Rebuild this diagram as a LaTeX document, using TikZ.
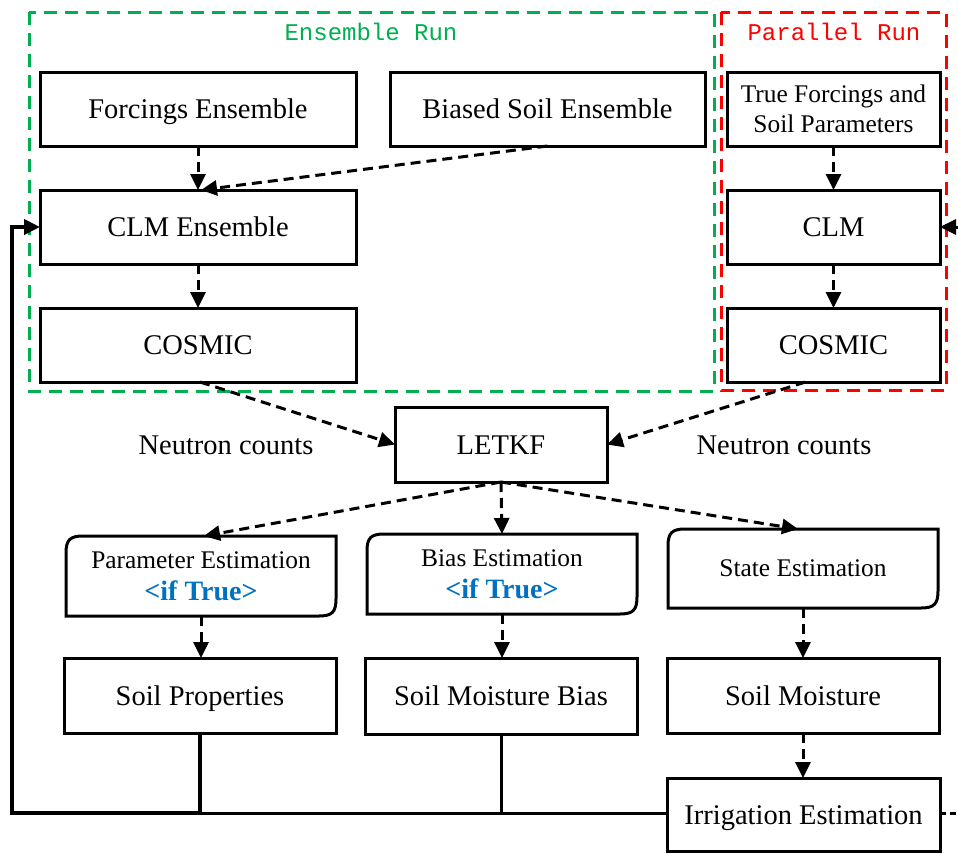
\documentclass[tikz,border=0pt]{standalone}
\usepackage{fontspec}
\setmainfont{Liberation Serif}
\setmonofont{Liberation Mono}
\usetikzlibrary{arrows.meta,calc}
\definecolor{ensgreen}{HTML}{00B050}
\definecolor{parred}{HTML}{FF0000}
\definecolor{ifblue}{HTML}{0070C0}
\newcommand\mainsz{\fontsize{28.5}{33}\selectfont}
\newcommand\smallsz{\fontsize{25.4}{30}\selectfont}
\newcommand\ifTrueLabel{{\color{ifblue}\bfseries\fontsize{28}{31}\selectfont <if True>}}
\newcommand\rdbox[1]{%
  \draw[line width=3pt] ($(#1.north west)+(0,17)$) .. controls ($(#1.north west)+(0,4)$) and ($(#1.north west)+(4,0)$) .. ($(#1.north west)+(17,0)$)
    -- (#1.north east) -- ($(#1.south east)+(0,-17)$) .. controls ($(#1.south east)+(0,-4)$) and ($(#1.south east)+(-4,0)$) .. ($(#1.south east)+(-17,0)$)
    -- (#1.south west) -- cycle;}
\begin{document}
\begin{tikzpicture}[x=1pt,y=-1pt,
  box/.style={draw,line width=3pt,inner sep=0pt,outer sep=0pt,align=center,font=\mainsz},
  one/.style={text height=26pt,text depth=7pt},
  rbox/.style={inner sep=0pt,outer sep=0pt,align=center,font=\smallsz},
  lbl/.style={inner sep=0pt,font=\mainsz},
  dasharr/.style={line width=3pt,dash pattern=on 10pt off 6pt,-{Triangle[length=16pt,width=15pt]}},
  solarr/.style={line width=3pt,-{Triangle[length=16pt,width=15pt]}},
  feed/.style={line width=3pt},
  grouptitle/.style={inner sep=0pt,font=\ttfamily\fontsize{24}{26}\selectfont}]
\useasboundingbox (0,0) rectangle (958,852);

% group frames
\draw[ensgreen,line width=3pt,dash pattern=on 13pt off 8pt] (29,12) rectangle (714,391);
\draw[parred,line width=3pt,dash pattern=on 13pt off 8pt] (721,12) rectangle (946,390);
\node[grouptitle,text=ensgreen] (tens) at (371,32) {Ensemble Run};
\node[grouptitle,text=parred] (tpar) at (834,32) {Parallel Run};

% boxes
\node[box,one,minimum width=316pt,minimum height=74pt] (fe) at (198,109) {Forcings Ensemble};
\node[box,one,minimum width=315pt,minimum height=74pt] (bse) at (547.5,109) {Biased Soil Ensemble};
\node[box,minimum width=213pt,minimum height=74pt,font=\smallsz] (tf) at (833.5,109) {True Forcings and\\Soil Parameters};
\node[box,one,minimum width=316pt,minimum height=74pt] (clme) at (198,227) {CLM Ensemble};
\node[box,one,minimum width=213pt,minimum height=74pt] (clm) at (833.5,227) {CLM};
\node[box,one,minimum width=316pt,minimum height=74pt] (cosl) at (198,345) {COSMIC};
\node[box,one,minimum width=213pt,minimum height=74pt] (cosr) at (833.5,345) {COSMIC};
\node[box,one,minimum width=212pt,minimum height=75pt] (letkf) at (501,444.5) {LETKF};
\node[lbl,one] (ncl) at (226,445) {Neutron counts};
\node[lbl,one] (ncr) at (784,445) {Neutron counts};

\node[rbox,minimum width=270pt,minimum height=80pt] (pe) at (201,576) {Parameter Estimation\\[2pt]\ifTrueLabel};
\node[rbox,minimum width=270pt,minimum height=80pt] (be) at (502,574) {Bias Estimation\\[2pt]\ifTrueLabel};
\node[rbox,minimum width=270pt,minimum height=79pt] (se) at (803,568.5) {State Estimation};
\rdbox{pe}
\rdbox{be}
\rdbox{se}

\node[box,one,minimum width=272pt,minimum height=75pt] (sp) at (200,695.5) {Soil Properties};
\node[box,one,minimum width=272pt,minimum height=76pt] (smb) at (501,696) {Soil Moisture Bias};
\node[box,one,minimum width=272pt,minimum height=75pt] (sm) at (803,695.5) {Soil Moisture};
\node[box,one,minimum width=273pt,minimum height=73pt] (ie) at (803.5,814.5) {Irrigation Estimation};

% arrows
\draw[dasharr] (fe.south) -- (clme.north);
\draw[dasharr] (bse.south) -- ($(clme.north)+(3,0)$);
\draw[dasharr] (clme.south) -- (cosl.north);
\draw[dasharr] (tf.south) -- (clm.north);
\draw[dasharr] (clm.south) -- (cosr.north);
\draw[dasharr] ($(cosl.south)+(2,0)$) -- (letkf.west);
\draw[dasharr] ($(cosr.south)+(-28,0)$) -- (letkf.east);
\draw[dasharr] (letkf.south) -- ($(pe.north)+(3,0)$);
\draw[dasharr] (letkf.south) -- (be.north);
\draw[dasharr] (letkf.south) -- ($(se.north)+(-5,0)$);
\draw[dasharr] (pe.south) -- (pe.south |- sp.north);
\draw[dasharr] (be.south) -- (be.south |- smb.north);
\draw[dasharr] (se.south) -- (se.south |- sm.north);
\draw[dasharr] (sm.south) -- (sm.south |- ie.north);

% feedback loop
\coordinate (fbr) at (958,227);
\coordinate (ier) at (958,813);
\coordinate (corner) at (12,813);
\draw[feed] (smb.south) -- (smb.south |- corner);
\draw[feed] (ie.west |- corner) -- (sp.south |- corner);
\draw[line width=4pt,-{Triangle[length=16pt,width=15pt]}] (sp.south) -- (sp.south |- corner) -- (corner) -- (corner |- clme.west) -- (clme.west);
\draw[solarr] (fbr) -- (clm.east);
\draw[line width=3pt,dash pattern=on 6pt off 4pt] (ie.east |- ier) -- (ier);
\end{tikzpicture}
\end{document}
